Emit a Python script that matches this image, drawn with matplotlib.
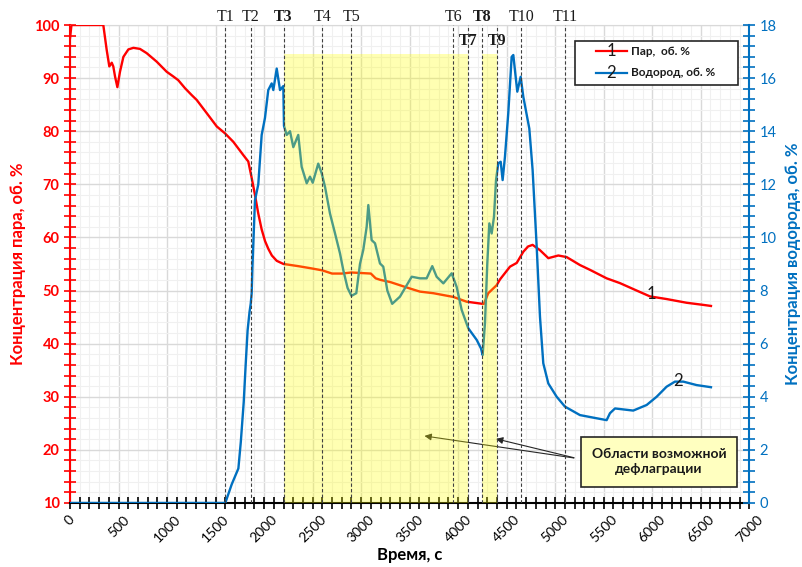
import numpy as np
import matplotlib
matplotlib.use("Agg")
import matplotlib.pyplot as plt
from matplotlib.ticker import MultipleLocator
from matplotlib.patches import Rectangle
from matplotlib.lines import Line2D
import matplotlib.transforms as mtrans

plt.rcParams['font.family'] = ['Lato', 'DejaVu Sans']

# steam concentration, vol. % (left axis)
steam_t = [0, 15, 100, 200, 300, 343, 378, 405, 430, 446, 464, 488, 515, 550,
           601, 653, 721, 790, 893, 996, 1065, 1116, 1185, 1254, 1305, 1409,
           1512, 1597, 1683, 1786, 1837, 1870, 1906, 1940, 1975, 2010, 2045,
           2080, 2130, 2200, 2240, 2350, 2480, 2600, 2700, 2800, 2900, 3000,
           3100, 3150, 3200, 3300, 3400, 3500, 3606, 3744, 3950, 4087, 4250,
           4265, 4310, 4396, 4431, 4534, 4603, 4671, 4720, 4767, 4843, 4929,
           5032, 5118, 5255, 5358, 5530, 5667, 5839, 5976, 6148, 6354, 6526, 6605]
steam_v = [97.5, 100, 100, 100, 100, 100, 95.3, 92.2, 92.9, 92.2, 90.3, 88.3, 91.2, 94.0,
           95.4, 95.7, 95.5, 94.7, 93.1, 91.2, 90.3, 89.6, 88.1, 86.8, 85.9, 83.4,
           80.9, 79.6, 78.0, 75.5, 74.3, 71.4, 68.0, 64.5, 61.5, 59.3, 57.8,
           56.6, 55.6, 55.0, 54.9, 54.6, 54.2, 53.8, 53.2, 53.2, 53.4, 53.3,
           53.2, 52.3, 52.0, 51.6, 51.0, 50.4, 49.8, 49.5, 48.8, 47.9, 47.5,
           47.5, 49.5, 51.0, 52.1, 54.5, 55.2, 57.3, 58.3, 58.6, 57.6, 56.1,
           56.6, 56.3, 54.8, 53.9, 52.3, 51.4, 50.0, 48.9, 48.4, 47.7, 47.3, 47.1]

# hydrogen concentration, vol. % (right axis)
h2_t = [0, 1600, 1666, 1735, 1760, 1790, 1810, 1830, 1850, 1862, 1872, 1880,
        1906, 1940, 1975, 2009, 2043, 2078, 2095, 2130, 2164, 2198, 2205, 2233,
        2267, 2301, 2352, 2387, 2439, 2473, 2501, 2558, 2594, 2628, 2679, 2731,
        2782, 2816, 2860, 2900, 2950, 2988, 3022, 3057, 3074, 3108, 3143, 3194,
        3228, 3270, 3320, 3400, 3521, 3606, 3675, 3733, 3778, 3847, 3933, 3984,
        4036, 4104, 4191, 4235, 4252, 4276, 4300, 4321, 4345, 4369, 4390, 4413,
        4438, 4458, 4482, 4516, 4551, 4568, 4609, 4644, 4671, 4733, 4767, 4809,
        4843, 4877, 4929, 5015, 5100, 5255, 5427, 5530, 5564, 5616, 5804, 5942,
        6045, 6148, 6234, 6320, 6457, 6605]
h2_v = [0, 0, 0.7, 1.3, 2.3, 3.8, 5.2, 6.5, 7.2, 7.5, 7.9, 8.9,
        11.4, 12.0, 13.86, 14.5, 15.55, 15.8, 15.55, 16.36, 15.55, 15.7, 14.2, 13.86,
        14.0, 13.4, 13.86, 12.66, 12.04, 12.29, 12.06, 12.78, 12.41, 11.9, 10.9, 10.15,
        9.4, 8.77, 8.1, 7.8, 7.9, 9.0, 9.53, 10.4, 11.22, 9.9, 9.78, 9.02,
        8.9, 8.0, 7.5, 7.77, 8.52, 8.46, 8.46, 8.92, 8.52, 8.27, 8.65, 8.14,
        7.27, 6.58, 6.14, 5.82, 5.57, 6.77, 9.02, 10.53, 10.15, 10.78, 12.16, 12.79,
        12.85, 12.16, 13.04, 14.67, 16.8, 16.87, 15.49, 16.05, 15.3, 14.1, 12.54, 9.65,
        7.01, 5.26, 4.5, 4.0, 3.63, 3.31, 3.19, 3.12, 3.38, 3.56, 3.48, 3.69,
        4.0, 4.38, 4.57, 4.57, 4.44, 4.36]

# event markers
t_names = ["T1", "T2", "T3", "T4", "T5", "T6", "T7", "T8", "T9", "T10", "T11"]
t_times = [1600, 1860, 2200, 2600, 2900, 3950, 4100, 4250, 4400, 4650, 5100]
t_bold = ["T3", "T7", "T8", "T9"]
t_low = ["T7", "T9"]

# possible deflagration zones
zone_start = [2200, 4250]
zone_end = [4100, 4400]
zone_top = 94.5

red = "#FF0000"
blue = "#0070C0"

fig = plt.figure(figsize=(8.02, 5.67), dpi=100)
ax = fig.add_axes([0.0873, 0.1129, 0.847, 0.843])
ax2 = ax.twinx()

ax.set_xlim(0, 7000)
ax.set_ylim(10, 100)
ax2.set_ylim(0, 18)

ax.xaxis.set_major_locator(MultipleLocator(500))
ax.xaxis.set_minor_locator(MultipleLocator(100))
ax.yaxis.set_major_locator(MultipleLocator(10))
ax.yaxis.set_minor_locator(MultipleLocator(2))
ax2.yaxis.set_major_locator(MultipleLocator(2))
ax2.yaxis.set_minor_locator(MultipleLocator(0.4))

ax.grid(which='major', color='#D9D9D9', lw=1.0, zorder=0)
ax.grid(which='minor', color='#F0F0F0', lw=0.8, zorder=0)
ax.set_axisbelow(True)

ax.plot(steam_t, steam_v, color=red, lw=1.7, zorder=3)
ax2.plot(h2_t, h2_v, color=blue, lw=1.7, zorder=2)

# yellow zones over the curves (converted to right-axis units)
for s, e in zip(zone_start, zone_end):
    ax2.fill_between([s, e], 0, (zone_top - 10) / 5.0, color='#FFFF00',
                     alpha=0.3, lw=0, zorder=3)

trans = mtrans.blended_transform_factory(ax.transData, ax.transAxes)
for name, t in zip(t_names, t_times):
    ax2.axvline(t, color='#404040', lw=0.8, ls=(0, (3, 2)), zorder=4)
    w = 'bold' if name in t_bold else 'normal'
    y = 0.967 if name in t_low else 1.016
    ax.text(t, y, name, transform=trans, ha='center', va='center',
            fontsize=11.5, fontweight=w, family='Liberation Serif', color='#1A1A1A')

# spines and ticks
for sp in ['left', 'right', 'top', 'bottom']:
    ax2.spines[sp].set_visible(False)
ax.spines['top'].set_color('#D9D9D9')
ax.spines['right'].set_visible(False)
ax.spines['left'].set_color(red)
ax.spines['left'].set_linewidth(1.5)
ax.spines['bottom'].set_linewidth(1.5)
ax2.spines['right'].set_visible(True)
ax2.spines['right'].set_color(blue)
ax2.spines['right'].set_linewidth(1.5)

ax.tick_params(axis='x', which='both', direction='inout', length=8, width=1.2,
               labelsize=10, top=False)
ax.tick_params(axis='y', which='both', direction='inout', length=8, width=1.2,
               colors=red, labelsize=10.5)
ax2.tick_params(axis='y', which='both', direction='inout', length=8, width=1.2,
                colors=blue, labelsize=10.5)
for lab in ax.get_yticklabels():
    lab.set_fontweight('bold')
plt.setp(ax.get_xticklabels(), rotation=45, ha='center', rotation_mode='default')

ax.set_xlabel("Время, с", fontsize=12, fontweight='bold', labelpad=2)
ax.set_ylabel("Концентрация пара, об. %", fontsize=12, fontweight='bold', color=red, labelpad=6)
ax2.set_ylabel("Концентрация водорода, об. %", fontsize=12, fontweight='bold', color=blue, labelpad=6)

# curve labels
ax.text(5987, 49.3, "1", fontsize=12, ha='center', va='center', color='#1A1A1A', zorder=6)
ax2.text(6268, 4.6, "2", fontsize=12, ha='center', va='center', color='#1A1A1A', zorder=6)

# legend drawn by hand
ax2.add_patch(Rectangle((0.743, 0.8745), 0.240, 0.0925, transform=ax2.transAxes,
                        facecolor='white', edgecolor='#262626', lw=1.2, zorder=7))
leg_items = [("1", "Пар,  об. %", red, 0.9456), ("2", "Водород, об. %", blue, 0.8996)]
for num, txt, col, yy in leg_items:
    ax2.add_line(Line2D([0.774, 0.820], [yy, yy], transform=ax2.transAxes,
                        color=col, lw=1.6, zorder=8))
    ax2.text(0.797, yy, num, transform=ax2.transAxes, ha='center', va='center',
             fontsize=12, color='#1A1A1A', zorder=9)
    ax2.text(0.826, yy, txt, transform=ax2.transAxes, ha='left', va='center',
             fontsize=8.5, fontweight='bold', color='#1A1A1A', zorder=9)

# annotation box with arrows
box_xy = (5221, 18.4)
for tip in [(3624, 22.7), (4362, 22.2)]:
    ax.annotate("", xy=tip, xytext=box_xy,
                arrowprops=dict(arrowstyle='-|>', color='#262626', lw=0.8,
                                mutation_scale=10), zorder=8)
ax2.text(0.867, 0.0865, "Области возможной\nдефлаграции", transform=ax2.transAxes,
         ha='center', va='center', fontsize=10, fontweight='bold', color='#1A1A1A',
         linespacing=1.35, zorder=9,
         bbox=dict(boxstyle='square,pad=0.8', facecolor='#FFFFC0', edgecolor='#262626', lw=1.2))

fig.savefig("out.png", dpi=100)
